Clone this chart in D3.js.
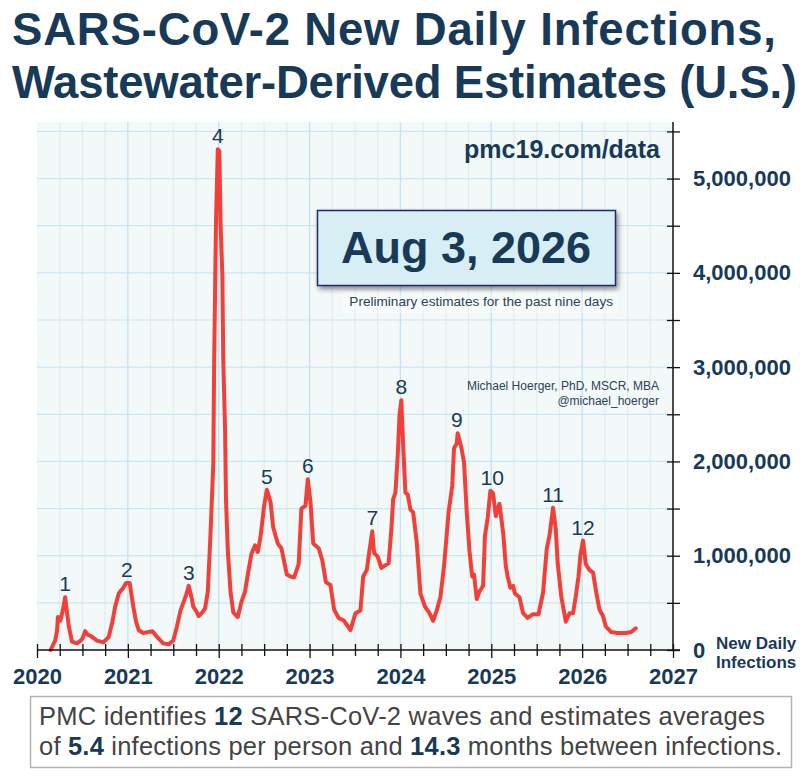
<!DOCTYPE html>
<html>
<head>
<meta charset="utf-8">
<script src="https://cdn.jsdelivr.net/npm/d3@7"></script>
<style>
  html, body { margin: 0; padding: 0; background: #ffffff; }
  svg { display: block; font-family: "Liberation Sans", Arial, sans-serif; }
</style>
</head>
<body>
<svg id="chart" width="804" height="776"></svg>
<script>
// ---------------- data ----------------
const titleLines = ["SARS-CoV-2 New Daily Infections,", "Wastewater-Derived Estimates (U.S.)"];
const dateLabel = "Aug 3, 2026";
const dateNote = "Preliminary estimates for the past nine days";
const siteLabel = "pmc19.com/data";
const authorLines = ["Michael Hoerger, PhD, MSCR, MBA", "@michael_hoerger"];
const yAxisTitle = ["New Daily", "Infections"];
const yearTicks = [2020, 2021, 2022, 2023, 2024, 2025, 2026, 2027];
const yTickValues = [0, 500000, 1000000, 1500000, 2000000, 2500000, 3000000, 3500000, 4000000, 4500000, 5000000, 5500000];

// decimal year of each estimate
const dates = [
  2020.15, 2020.20, 2020.22, 2020.23, 2020.256, 2020.28, 2020.31, 2020.33, 2020.35, 2020.385,
  2020.44, 2020.48, 2020.50, 2020.53, 2020.56, 2020.59, 2020.66, 2020.73, 2020.79, 2020.83,
  2020.86, 2020.90, 2020.95, 2020.98, 2021.02, 2021.06, 2021.09, 2021.12, 2021.17, 2021.22,
  2021.27, 2021.32, 2021.39, 2021.45, 2021.50, 2021.54, 2021.58, 2021.61, 2021.64, 2021.67,
  2021.70, 2021.72, 2021.76, 2021.78, 2021.82, 2021.85, 2021.88, 2021.91, 2021.94, 2021.95,
  2021.97, 2021.99, 2022.007, 2022.02, 2022.04, 2022.05, 2022.07, 2022.08, 2022.10, 2022.13,
  2022.16, 2022.21, 2022.25, 2022.29, 2022.32, 2022.36, 2022.40, 2022.43, 2022.46, 2022.50,
  2022.53, 2022.57, 2022.60, 2022.65, 2022.69, 2022.75, 2022.79, 2022.83, 2022.88, 2022.91,
  2022.955, 2022.98, 2023.01, 2023.04, 2023.10, 2023.14, 2023.18, 2023.23, 2023.27, 2023.32,
  2023.38, 2023.45, 2023.505, 2023.56, 2023.59, 2023.63, 2023.66, 2023.69, 2023.71, 2023.75,
  2023.79, 2023.835, 2023.87, 2023.90, 2023.92, 2023.945, 2023.97, 2023.99, 2024.01, 2024.03,
  2024.055, 2024.08, 2024.11, 2024.14, 2024.18, 2024.22, 2024.27, 2024.32, 2024.36, 2024.40,
  2024.44, 2024.48, 2024.53, 2024.57, 2024.59, 2024.62, 2024.63, 2024.67, 2024.70, 2024.73,
  2024.76, 2024.79, 2024.81, 2024.84, 2024.87, 2024.91, 2024.93, 2024.96, 2024.99, 2025.02,
  2025.05, 2025.09, 2025.13, 2025.16, 2025.18, 2025.21, 2025.24, 2025.26, 2025.31, 2025.35,
  2025.40, 2025.46, 2025.52, 2025.57, 2025.61, 2025.64, 2025.68, 2025.71, 2025.73, 2025.77,
  2025.82, 2025.86, 2025.90, 2025.93, 2025.96, 2025.98, 2026.01, 2026.04, 2026.08, 2026.12,
  2026.15, 2026.19, 2026.23, 2026.26, 2026.32, 2026.39, 2026.48, 2026.54, 2026.59
];
// new daily infections, millions
const infections = [
  0.00, 0.10, 0.20, 0.35, 0.31, 0.40, 0.56, 0.40, 0.25, 0.09,
  0.07, 0.10, 0.12, 0.20, 0.16, 0.15, 0.10, 0.08, 0.14, 0.30,
  0.46, 0.60, 0.66, 0.71, 0.71, 0.46, 0.30, 0.21, 0.18, 0.19,
  0.20, 0.14, 0.07, 0.06, 0.10, 0.25, 0.42, 0.50, 0.58, 0.68,
  0.56, 0.46, 0.40, 0.36, 0.40, 0.44, 0.62, 1.24, 1.97, 3.07,
  4.53, 5.31, 5.29, 4.53, 3.98, 3.07, 2.34, 1.60, 1.06, 0.62,
  0.40, 0.35, 0.51, 0.62, 0.80, 1.02, 1.11, 1.04, 1.20, 1.53,
  1.70, 1.57, 1.30, 1.13, 1.08, 0.80, 0.78, 0.77, 0.91, 1.50,
  1.53, 1.81, 1.57, 1.13, 1.08, 0.95, 0.72, 0.69, 0.43, 0.34,
  0.31, 0.21, 0.39, 0.42, 0.78, 0.85, 1.06, 1.26, 1.03, 0.99,
  0.87, 0.90, 0.92, 1.28, 1.60, 1.67, 2.06, 2.49, 2.65, 2.17,
  1.67, 1.65, 1.49, 1.46, 1.14, 0.60, 0.46, 0.39, 0.31, 0.42,
  0.56, 0.89, 1.46, 1.74, 2.14, 2.19, 2.30, 2.15, 1.99, 1.46,
  1.05, 0.78, 0.80, 0.54, 0.62, 0.68, 1.21, 1.40, 1.69, 1.66,
  1.42, 1.55, 1.25, 0.89, 0.78, 0.66, 0.68, 0.60, 0.56, 0.39,
  0.34, 0.38, 0.38, 0.61, 1.07, 1.21, 1.51, 1.28, 0.93, 0.57,
  0.30, 0.39, 0.39, 0.57, 0.78, 1.00, 1.16, 0.91, 0.85, 0.82,
  0.64, 0.43, 0.36, 0.25, 0.19, 0.18, 0.18, 0.19, 0.23
];

const waveNames = ["1", "2", "3", "4", "5", "6", "7", "8", "9", "10", "11", "12"];
const wavePeakDates = [2020.31, 2020.99, 2021.67, 2021.99, 2022.53, 2022.98, 2023.69, 2024.01, 2024.62, 2025.01, 2025.68, 2026.01];
const wavePeakValues = [0.56, 0.71, 0.68, 5.31, 1.70, 1.81, 1.26, 2.65, 2.30, 1.69, 1.51, 1.16];

const footerLines = [
  [["PMC identifies ", false], ["12", true], [" SARS-CoV-2 waves and estimates averages", false]],
  [["of ", false], ["5.4", true], [" infections per person and ", false], ["14.3", true], [" months between infections.", false]]
];

// ---------------- drawing ----------------
const navy = "#173a58";
const svg = d3.select("#chart");
const plot = { left: 37, right: 673, top: 122, bottom: 650 };

const x = d3.scaleLinear().domain([2020, 2027]).range([plot.left, plot.right]);
const y = d3.scaleLinear().domain([0, 5600000]).range([plot.bottom, plot.top]);

const defs = svg.append("defs");
const sh = defs.append("filter").attr("id", "shadow").attr("x", "-10%").attr("y", "-20%").attr("width", "125%").attr("height", "150%");
sh.append("feDropShadow").attr("dx", 2).attr("dy", 3).attr("stdDeviation", 2.5).attr("flood-color", "#000").attr("flood-opacity", 0.45);

// title
const titleWidths = [764, 785];
svg.append("g").selectAll("text").data(titleLines).join("text")
  .attr("x", 12).attr("y", (d, i) => 45 + i * 53)
  .attr("font-size", 45.5).attr("font-weight", "bold").attr("fill", navy)
  .attr("textLength", (d, i) => titleWidths[i]).attr("lengthAdjust", "spacing")
  .text(d => d);

// plot background
svg.append("rect").attr("x", plot.left).attr("y", plot.top)
  .attr("width", plot.right - plot.left).attr("height", plot.bottom - plot.top)
  .attr("fill", "#f3f9f8");

// grid
const quarters = d3.range(2020, 2027.001, 0.25);
const grid = svg.append("g");
grid.selectAll("line.minor").data(quarters.filter(q => q % 1 !== 0)).join("line")
  .attr("x1", d => x(d)).attr("x2", d => x(d)).attr("y1", plot.top).attr("y2", plot.bottom)
  .attr("stroke", "#e3ecec").attr("stroke-width", 1.2);
grid.selectAll("line.hz").data(yTickValues.filter(v => v > 0)).join("line")
  .attr("x1", plot.left).attr("x2", plot.right).attr("y1", d => y(d)).attr("y2", d => y(d))
  .attr("stroke", "#cbe5f4").attr("stroke-width", 1.2);
grid.selectAll("line.major").data(yearTicks.slice(1, -1)).join("line")
  .attr("x1", d => x(d)).attr("x2", d => x(d)).attr("y1", plot.top).attr("y2", plot.bottom)
  .attr("stroke", "#c6e3f4").attr("stroke-width", 1.4);

// annotations inside plot
svg.append("text").attr("x", 660).attr("y", 158).attr("text-anchor", "end")
  .attr("font-size", 25).attr("font-weight", "bold").attr("fill", navy).text(siteLabel);

svg.append("rect").attr("x", 342).attr("y", 291).attr("width", 276).attr("height", 22)
  .attr("fill", "#ffffff").attr("opacity", 0.35);
svg.append("rect").attr("x", 317.5).attr("y", 210.5).attr("width", 298).attr("height", 75)
  .attr("fill", "#d7eff4").attr("stroke", "#1d2a6e").attr("stroke-width", 1.5)
  .attr("filter", "url(#shadow)");
svg.append("text").attr("x", 466).attr("y", 263).attr("text-anchor", "middle")
  .attr("font-size", 45).attr("font-weight", "bold").attr("fill", navy).text(dateLabel);
svg.append("text").attr("x", 613).attr("y", 306).attr("text-anchor", "end")
  .attr("font-size", 13.6).attr("fill", "#2b4258").text(dateNote);

svg.append("g").selectAll("text").data(authorLines).join("text")
  .attr("x", 659).attr("y", (d, i) => 390 + i * 15).attr("text-anchor", "end")
  .attr("font-size", 12).attr("fill", "#2b4258").text(d => d);

// series
const series = dates.map((d, i) => [d, infections[i] * 1e6]);
svg.append("path").datum(series)
  .attr("d", d3.line().x(d => x(d[0])).y(d => y(d[1])).curve(d3.curveLinear))
  .attr("fill", "none").attr("stroke", "#f1403a").attr("stroke-width", 4)
  .attr("stroke-linejoin", "round").attr("stroke-linecap", "round");

// wave labels
svg.append("g").selectAll("text").data(waveNames).join("text")
  .attr("x", (d, i) => x(wavePeakDates[i]))
  .attr("y", (d, i) => y(wavePeakValues[i] * 1e6) - 6)
  .attr("text-anchor", "middle").attr("font-size", 21).attr("fill", navy)
  .text(d => d);

// bottom axis
const xAxis = d3.axisBottom(x).tickValues(quarters)
  .tickFormat(d => (d % 1 === 0 ? String(d) : "")).tickSize(6).tickPadding(0);
const gx = svg.append("g").attr("transform", `translate(0,${plot.bottom})`).call(xAxis);
gx.select(".domain").attr("stroke", "#111").attr("stroke-width", 1.5).attr("d", `M${plot.left},0H${plot.right + 7}`);
gx.selectAll(".tick line").attr("stroke", "#111").attr("stroke-width", 1.3)
  .attr("y1", -6).attr("y2", d => (d % 1 === 0 ? 8 : 6));
gx.selectAll(".tick text").attr("y", 34).attr("dy", 0)
  .attr("font-size", 22).attr("font-weight", "bold").attr("fill", navy)
  .attr("font-family", "\"Liberation Sans\", Arial, sans-serif");

// right axis
const yAxis = d3.axisRight(y).tickValues(yTickValues)
  .tickFormat(d => (d % 1000000 === 0 ? d3.format(",")(d) : "")).tickSize(7).tickPadding(13);
const gy = svg.append("g").attr("transform", `translate(${plot.right},0)`).call(yAxis);
gy.select(".domain").attr("stroke", "#111").attr("stroke-width", 1.5).attr("d", `M0,${plot.top}V${plot.bottom}`);
gy.selectAll(".tick line").attr("stroke", "#111").attr("stroke-width", 1.3).attr("x1", -6);
gy.selectAll(".tick text").attr("x", 20)
  .attr("font-size", 22).attr("font-weight", "bold").attr("fill", navy)
  .attr("font-family", "\"Liberation Sans\", Arial, sans-serif");

svg.append("g").selectAll("text").data(yAxisTitle).join("text")
  .attr("x", 716).attr("y", (d, i) => 649 + i * 19)
  .attr("font-size", 17).attr("font-weight", "bold").attr("fill", navy).text(d => d);

// footer
svg.append("rect").attr("x", 30.5).attr("y", 696.5).attr("width", 761).attr("height", 71)
  .attr("fill", "#ffffff").attr("stroke", "#b3b3b3").attr("stroke-width", 1.5);
const footerWidths = [726, 743];
const ft = svg.append("g");
footerLines.forEach((parts, i) => {
  const t = ft.append("text").attr("x", 39).attr("y", 725 + i * 30)
    .attr("font-size", 25.5).attr("fill", "#444444")
    .attr("textLength", footerWidths[i]).attr("lengthAdjust", "spacing");
  parts.forEach(p => {
    t.append("tspan").text(p[0])
      .attr("font-weight", p[1] ? "bold" : "normal")
      .attr("fill", p[1] ? navy : "#444444");
  });
});
</script>
</body>
</html>
